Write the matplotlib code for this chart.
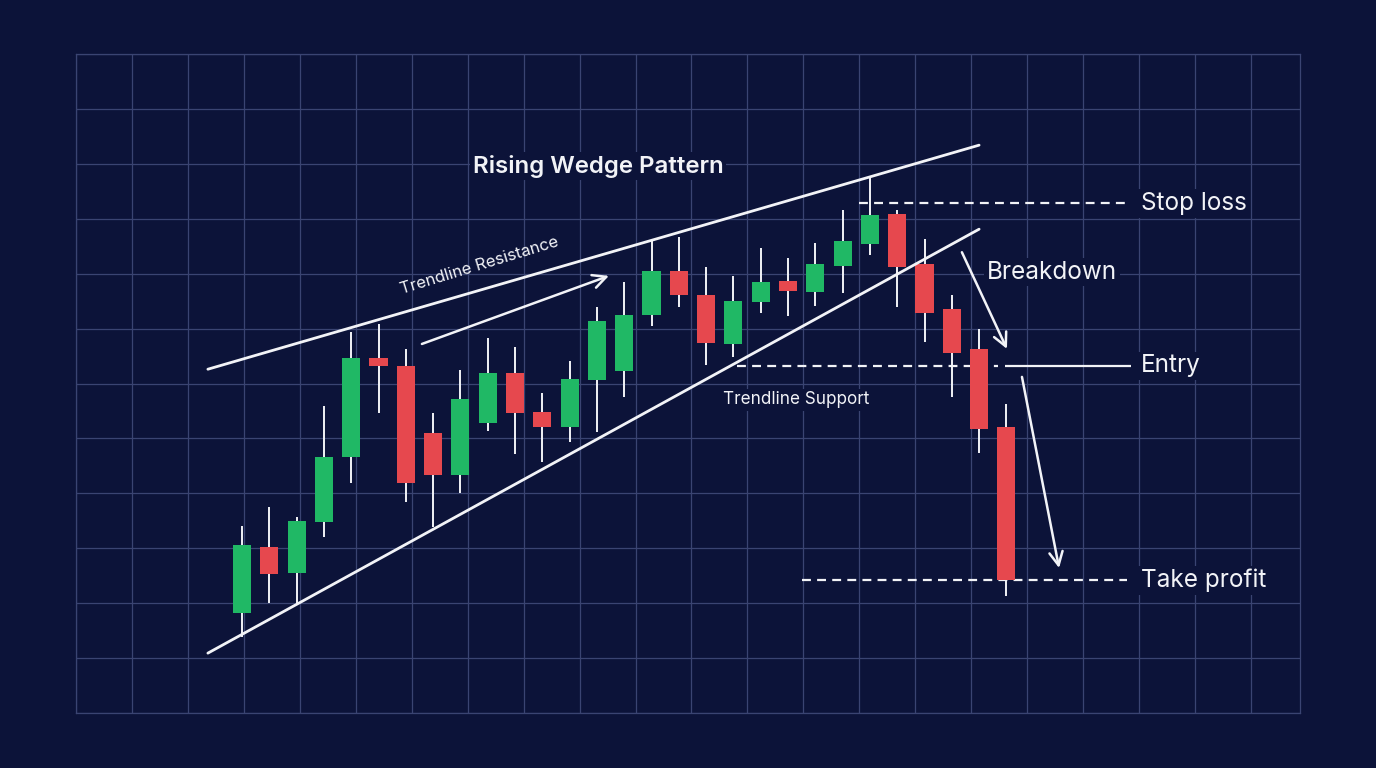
import numpy as np
import matplotlib.pyplot as plt

# candle data (price units), one per session
opens = [118.3, 130.3, 125.5, 134.7, 146.7, 164.7, 163.1, 151.0, 143.3, 152.8,
         162.0, 154.8, 152.0, 160.6, 162.3, 172.5, 180.5, 176.2, 167.2, 174.9,
         178.7, 176.7, 181.4, 185.4, 190.8, 181.8, 173.6, 166.3, 152.1]
highs = [134.1, 137.5, 135.7, 155.9, 169.4, 170.8, 166.2, 154.7, 162.5, 168.2,
         166.7, 158.2, 164.1, 173.9, 178.5, 186.1, 186.6, 181.3, 179.5, 184.6,
         182.8, 185.6, 191.6, 197.4, 191.6, 186.4, 176.1, 169.9, 156.2]
lows = [113.9, 120.1, 119.8, 132.0, 141.9, 154.6, 138.4, 133.9, 140.1, 151.4,
        147.2, 145.7, 149.4, 151.2, 157.6, 170.5, 174.0, 163.4, 164.9, 172.8,
        172.3, 174.2, 176.5, 183.4, 174.0, 167.6, 157.5, 147.3, 121.3]
closes = [130.6, 125.4, 135.0, 146.6, 164.6, 163.1, 141.8, 143.3, 157.1, 161.9,
          154.6, 152.0, 160.8, 171.4, 172.5, 180.5, 176.1, 167.3, 175.1, 178.5,
          176.8, 181.7, 186.0, 190.7, 181.3, 172.8, 165.6, 151.7, 124.3]

# wedge trendlines (session index, price)
trend_x = [-1.25, 27.0]
resistance_y = [162.6, 203.4]
support_y = [110.9, 188.1]

# trade levels
stop_loss = 192.8
entry = 163.2
take_profit = 124.2

BG = '#0c1339'
GRID = '#3a4472'
GREEN = '#20b865'
RED = '#e6484e'
WHITE = '#f2f3f7'

plt.rcParams['font.family'] = ['Inter', 'DejaVu Sans']

fig = plt.figure(figsize=(13.76, 7.68), dpi=100, facecolor=BG)
pos = [76 / 1376, 1 - 713 / 768, 1224 / 1376, 659 / 768]

# background grid
gax = fig.add_axes(pos)
gax.set_facecolor(BG)
gax.set_xlim(0, 1224 / 55.95)
gax.set_ylim(0, 12)
gax.set_xticks(np.arange(0, 22))
gax.set_yticks(np.arange(0, 13))
gax.grid(True, color=GRID, lw=0.9)
gax.tick_params(length=0, labelbottom=False, labelleft=False)
for s in gax.spines.values():
    s.set_color(GRID)
    s.set_linewidth(0.9)

ax = fig.add_axes(pos)
ax.patch.set_alpha(0)
ax.set_xlim((76 - 242) / 27.3, (1300 - 242) / 27.3)
ax.set_ylim(100, 100 + 659 / 5.4917)
ax.axis('off')

x = np.arange(len(opens))
o = np.array(opens)
c = np.array(closes)
colors = [GREEN if cc >= oo else RED for oo, cc in zip(o, c)]

ax.vlines(x, lows, highs, color=WHITE, lw=1.4, zorder=3)
ax.bar(x, np.abs(c - o), bottom=np.minimum(o, c), width=0.66, color=colors, zorder=4)

# wedge
ax.plot(trend_x, resistance_y, color=WHITE, lw=2, solid_capstyle='round', zorder=5)
ax.plot(trend_x, support_y, color=WHITE, lw=2, solid_capstyle='round', zorder=5)

# levels
dash = (0, (4, 2.8))
ax.hlines(stop_loss, 22.6, 32.5, color=WHITE, lw=1.6, linestyles=dash, zorder=2)
ax.hlines(entry, 18.15, 27.7, color=WHITE, lw=1.6, linestyles=dash, zorder=2)
ax.hlines(entry, 27.95, 32.55, color=WHITE, lw=1.6, zorder=2)
ax.hlines(take_profit, 20.5, 32.4, color=WHITE, lw=1.6, linestyles=dash, zorder=2)

# arrows
arrow = dict(arrowstyle='->', color=WHITE, lw=1.8, mutation_scale=24,
             shrinkA=0, shrinkB=0)
ax.annotate('', xy=(13.44, 179.6), xytext=(6.59, 167.2), arrowprops=arrow, zorder=6)
ax.annotate('', xy=(28.02, 166.3), xytext=(26.37, 183.9), arrowprops=arrow, zorder=6)
ax.annotate('', xy=(29.93, 126.4), xytext=(28.57, 161.2), arrowprops=arrow, zorder=6)

box = dict(facecolor=BG, edgecolor='none', pad=2)
ax.text(13.04, 199.6, 'Rising Wedge Pattern', color=WHITE, fontsize=17.3,
        fontweight='semibold', ha='center', va='center', bbox=box, zorder=7)
ax.text(8.68, 181.4, 'Trendline Resistance', color=WHITE, fontsize=12,
        rotation=17, ha='center', va='center', zorder=7)
ax.text(17.62, 157.0, 'Trendline Support', color=WHITE, fontsize=12.3,
        ha='left', va='center', bbox=box, zorder=7)
ax.text(27.29, 180.3, 'Breakdown', color=WHITE, fontsize=17.5,
        ha='left', va='center', bbox=box, zorder=7)
for lvl, name in [(stop_loss, 'Stop loss'), (entry, 'Entry'), (take_profit, 'Take profit')]:
    ax.text(32.93, lvl, name, color=WHITE, fontsize=17.5, ha='left', va='center',
            bbox=box, zorder=7)

fig.savefig('out.png', dpi=100, facecolor=BG)
